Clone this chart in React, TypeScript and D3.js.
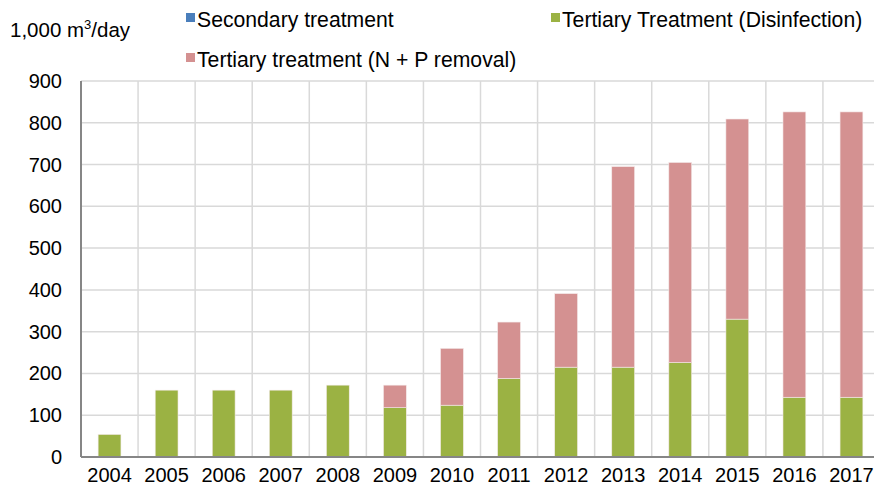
import React from "react";
import * as d3 from "d3";

const years = ["2004", "2005", "2006", "2007", "2008", "2009", "2010", "2011", "2012", "2013", "2014", "2015", "2016", "2017"];
const secondary = [0, 0, 0, 0, 0, 0, 0, 0, 0, 0, 0, 0, 0, 0];
const disinfection = [54, 160, 160, 160, 172, 118, 124, 188, 215, 215, 226, 330, 143, 143];
const nutrientRemoval = [0, 0, 0, 0, 0, 54, 136, 135, 176, 480, 479, 479, 683, 683];
const yTicks = [0, 100, 200, 300, 400, 500, 600, 700, 800, 900];

const seriesNames = ["Secondary treatment", "Tertiary Treatment (Disinfection)", "Tertiary treatment (N + P removal)"];
const colors = ["#4a7ebb", "#9bb243", "#d49191"];

const width = 874;
const height = 490;
const margin = { top: 81, right: -6, bottom: 33, left: 81 };
const font = "'Liberation Sans', Arial, sans-serif";

export default function App() {
  const innerW = width - margin.left - margin.right;
  const innerH = height - margin.top - margin.bottom;

  const x = d3.scaleBand().domain(years).range([0, innerW]).paddingInner(0.6).paddingOuter(0.3);
  const y = d3.scaleLinear().domain([0, 900]).range([innerH, 0]);
  const step = x.step();

  const rows = years.map((yr, i) => ({
    year: yr,
    secondary: secondary[i],
    disinfection: disinfection[i],
    nutrient: nutrientRemoval[i],
  }));
  const stack = d3.stack<any>().keys(["secondary", "disinfection", "nutrient"]);
  const layers = stack(rows);

  return (
    <svg width={width} height={height} style={{ position: "absolute", left: 0, top: 0, background: "#fff" }} fontFamily={font}>
      {/* y-axis title */}
      <text x={10} y={37} fontSize={20.5} fill="#000">
        1,000 m<tspan dy={-8} fontSize={13}>3</tspan>
        <tspan dy={8}>/day</tspan>
      </text>

      {/* legend */}
      <rect x={186} y={13} width={9} height={9} fill={colors[0]} />
      <text x={197} y={27} fontSize={21.2}>{seriesNames[0]}</text>
      <rect x={551} y={13} width={9} height={9} fill={colors[1]} />
      <text x={562} y={27} fontSize={21.2}>{seriesNames[1]}</text>
      <rect x={186} y={53} width={9} height={9} fill={colors[2]} />
      <text x={197} y={67} fontSize={21.2}>{seriesNames[2]}</text>

      <g transform={`translate(${margin.left},${margin.top})`}>
        {/* grid */}
        {yTicks.map((t) => (
          <line key={"h" + t} x1={0} x2={innerW} y1={y(t)} y2={y(t)} stroke="#d9d9d9" strokeWidth={1.5} />
        ))}
        {years.map((yr, i) => (
          <line key={"v" + yr} x1={step * (i + 1)} x2={step * (i + 1)} y1={0} y2={innerH} stroke="#d9d9d9" strokeWidth={1.5} />
        ))}

        {/* bars */}
        {layers.map((layer, li) => (
          <g key={li} fill={colors[li]}>
            {layer.map((d, i) =>
              d[1] - d[0] > 0 ? (
                <rect
                  key={i}
                  x={x(years[i])}
                  width={x.bandwidth()}
                  y={y(d[1])}
                  height={y(d[0]) - y(d[1])}
                  stroke="#f4eaea"
                  strokeWidth={0.6}
                />
              ) : null
            )}
          </g>
        ))}

        {/* axes */}
        <line x1={0} x2={0} y1={0} y2={innerH} stroke="#868686" strokeWidth={2} />
        <line x1={0} x2={innerW} y1={innerH} y2={innerH} stroke="#868686" strokeWidth={2} />

        {yTicks.map((t) => (
          <text key={"yt" + t} x={-19} y={y(t)} dy="0.35em" textAnchor="end" fontSize={20}>
            {t}
          </text>
        ))}
        {years.map((yr) => (
          <text key={"xt" + yr} x={(x(yr) ?? 0) + x.bandwidth() / 2} y={innerH + 25} textAnchor="middle" fontSize={20}>
            {yr}
          </text>
        ))}
      </g>
    </svg>
  );
}
